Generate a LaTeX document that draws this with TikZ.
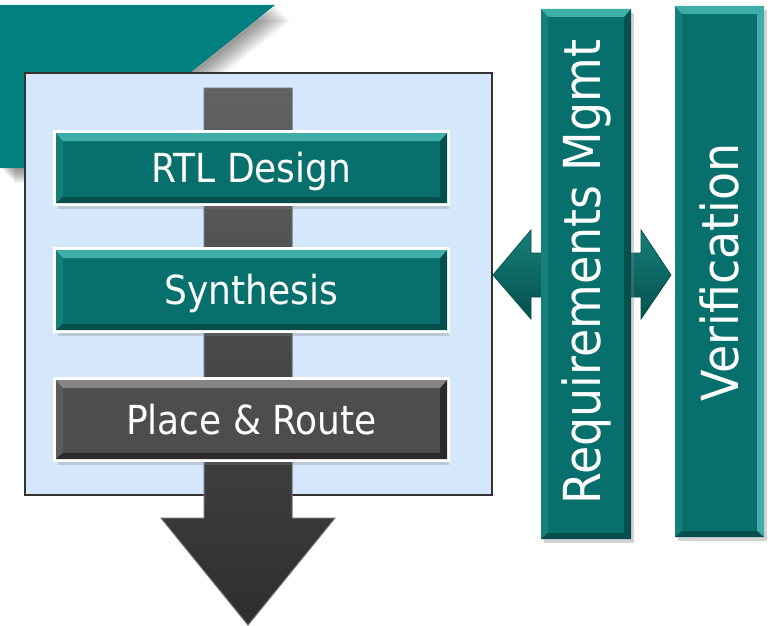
\documentclass[tikz,border=0pt]{standalone}
\usepackage{fontspec}
\setmainfont{DejaVu Sans Condensed}
\usetikzlibrary{shadows}

\definecolor{leafteal}{HTML}{008080}
\definecolor{stageteal}{HTML}{08706C}
\definecolor{tealhi}{HTML}{3FAEA8}
\definecolor{tealside}{HTML}{167F7A}
\definecolor{teallow}{HTML}{05504D}
\definecolor{panelblue}{HTML}{D5E8FB}
\definecolor{panelrim}{HTML}{333333}
\definecolor{stagegray}{HTML}{4D4D4D}
\definecolor{grayhi}{HTML}{858585}
\definecolor{grayside}{HTML}{5C5C5C}
\definecolor{graylow}{HTML}{2A2A2A}
\definecolor{shafttop}{HTML}{626262}
\definecolor{shaftlow}{HTML}{2E2E2E}
\definecolor{shaftrim}{HTML}{707070}

% four bevel faces drawn inside a rectangular node: top, left, right, bottom
\newcommand\bevelfaces[4]{%
  \coordinate (bnw) at (path picture bounding box.north west);
  \coordinate (bne) at (path picture bounding box.north east);
  \coordinate (bsw) at (path picture bounding box.south west);
  \coordinate (bse) at (path picture bounding box.south east);
  \fill[#2] (bnw) -- ([shift={(7pt,-8pt)}]bnw) -- ([shift={(7pt,6pt)}]bsw) -- (bsw) -- cycle;
  \fill[#3] (bne) -- ([shift={(-7pt,-8pt)}]bne) -- ([shift={(-7pt,6pt)}]bse) -- (bse) -- cycle;
  \fill[#4] (bsw) -- ([shift={(7pt,6pt)}]bsw) -- ([shift={(-7pt,6pt)}]bse) -- (bse) -- cycle;
  \fill[#1] (bnw) -- (bne) -- ([shift={(-7pt,-8pt)}]bne) -- ([shift={(7pt,-8pt)}]bnw) -- cycle;
}

\tikzset{
  stage/.style={rectangle, minimum width=391pt, inner sep=0pt, text=white,
    font=\fontsize{40}{40}\selectfont, text height=29pt, text depth=0pt,
    drop shadow={shadow xshift=2pt, shadow yshift=-6pt, opacity=.3},
    preaction={draw=white, line width=6pt}},
  tealstage/.style={stage, fill=stageteal,
    path picture={\bevelfaces{tealhi}{tealside}{teallow}{teallow}}},
  graystage/.style={stage, fill=stagegray,
    path picture={\bevelfaces{grayhi}{grayside}{graylow}{graylow}}},
  sidebar/.style={rectangle, inner sep=0pt, fill=stageteal,
    drop shadow={shadow xshift=3pt, shadow yshift=-4pt, opacity=.35}},
  sidetext/.style={rotate=90, anchor=base, text=white, inner sep=0pt,
    font=\fontsize{51}{51}\selectfont},
  panelbox/.style={rectangle, draw=panelrim, line width=2pt, fill=panelblue,
    minimum width=467pt, minimum height=422pt, inner sep=0pt},
}

\begin{document}
\begin{tikzpicture}[x=1pt, y=-1pt]
  \useasboundingbox (0,0) rectangle (771,626);

  % slanted teal banner with a soft shadow
  \foreach \s in {3,5,...,15}
    \fill[black, opacity=0.065, shift={(\s,\s)}]
      (0,5) -- (275,5) -- (71,168) -- (0,168) -- cycle;
  \fill[leafteal] (0,5) -- (275,5) -- (71,168) -- (0,168) -- cycle;

  % light panel holding the flow
  \node[panelbox] (panel) at (258.5,284) {};

  % downward flow arrow
  \shade[top color=shafttop, bottom color=shaftlow, draw=shaftrim, line width=1pt]
    (204,88) -- (292,88) -- (292,518) -- (335,518) -- (248,625)
    -- (161,518) -- (204,518) -- cycle;

  % stages
  \node[tealstage, minimum height=70pt] (rtl)   at (251.5,168) {RTL Design};
  \node[tealstage, minimum height=80pt] (synth) at (251.5,290) {Synthesis};
  \node[graystage, minimum height=79pt] (pnr)   at (251.5,419.5) {Place \& Route};

  % two-way link between the panel and the side columns
  \shade[top color=tealside, bottom color=teallow, draw=teallow, line width=0.8pt]
    (493,275) -- (531,230) -- (531,253) -- (641,253) -- (641,230) -- (671,275)
    -- (641,319) -- (641,297) -- (531,297) -- (531,319) -- cycle;

  % side columns
  \node[sidebar, minimum width=90pt, minimum height=530pt,
        path picture={\bevelfaces{tealhi}{tealside}{teallow}{teallow}}]
        (req) at (586,274) {};
  \node[sidetext] (reqlabel) at (600,272) {Requirements Mgmt};

  \node[sidebar, minimum width=89pt, minimum height=531pt,
        path picture={\bevelfaces{tealhi}{tealside}{tealhi}{teallow}}]
        (ver) at (719.5,271.5) {};
  \node[sidetext] (verlabel) at (738,272.5) {Verification};
\end{tikzpicture}
\end{document}
